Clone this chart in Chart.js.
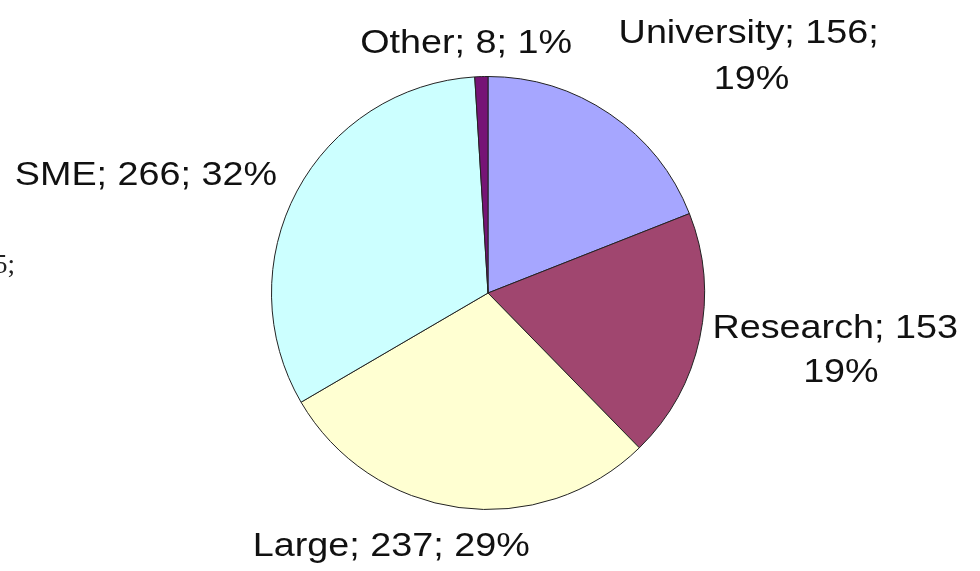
<!DOCTYPE html>
<html lang="en">
<head>
<meta charset="UTF-8">
<title>Participants by type</title>
<style>
  body { margin: 0; padding: 0; background: #fff; }
  #wrap { position: relative; width: 980px; height: 571px; }
</style>
</head>
<body>
<div id="wrap"><canvas id="pie"></canvas></div>
<script src="https://cdn.jsdelivr.net/npm/chart.js"></script>
<script>
const categories = ['University', 'Research', 'Large', 'SME', 'Other'];
const counts = [156, 153, 237, 266, 8];
const percents = ['19%', '19%', '29%', '32%', '1%'];
const sliceColors = ['#A6A6FF', '#A0466F', '#FFFFD2', '#CCFFFF', '#761476'];

// label lines per slice (Research's trailing ";" is cut off in the original)
const labelLines = [
  ['University; 156;', '19%'],
  ['Research; 153', '19%'],
  ['Large; 237; 29%'],
  ['SME; 266; 32%'],
  ['Other; 8; 1%']
];
// offsets from pie centre, in radius units: [x, baseline y, align] per line
const labelPlace = [
  [[1.204, -1.157, 'center'], [1.217, -0.940, 'center']],
  [[1.037, 0.207, 'left'], [1.63, 0.410, 'center']],
  [[-0.447, 1.217, 'center']],
  [[-1.58, -0.498, 'center']],
  [[-0.101, -1.11, 'center']]
];
const stretchX = 1.11;

const pieLabels = {
  id: 'pieLabels',
  afterDraw(chart) {
    const ctx = chart.ctx;
    const arcs = chart.getDatasetMeta(0).data;
    const cx = arcs[0].x, cy = arcs[0].y, r = arcs[0].outerRadius;
    ctx.save();
    ctx.fillStyle = '#111';
    ctx.font = '34px "Liberation Sans", Arial, sans-serif';
    ctx.textBaseline = 'alphabetic';
    labelLines.forEach((lines, i) => {
      lines.forEach((txt, j) => {
        const p = labelPlace[i][j];
        const x = cx + p[0] * r, y = cy + p[1] * r;
        ctx.save();
        ctx.translate(x, y);
        ctx.scale(stretchX, 1);
        ctx.textAlign = p[2];
        ctx.fillText(txt, 0, 0);
        ctx.restore();
      });
    });
    // fragment of a neighbouring label, clipped at the left edge
    ctx.fillStyle = '#222';
    ctx.font = '27px "Liberation Serif", serif';
    ctx.textAlign = 'left';
    ctx.fillText('5;', -6, 273);
    ctx.restore();
  }
};

new Chart(document.getElementById('pie'), {
  type: 'pie',
  data: {
    labels: categories,
    datasets: [{
      data: counts,
      backgroundColor: sliceColors,
      borderColor: '#222',
      borderWidth: 1
    }]
  },
  options: {
    responsive: true,
    maintainAspectRatio: false,
    animation: false,
    rotation: 0,
    layout: { padding: { top: 76, bottom: 61, left: 271, right: 275 } },
    plugins: {
      legend: { display: false },
      tooltip: { enabled: false }
    }
  },
  plugins: [pieLabels]
});
</script>
</body>
</html>
